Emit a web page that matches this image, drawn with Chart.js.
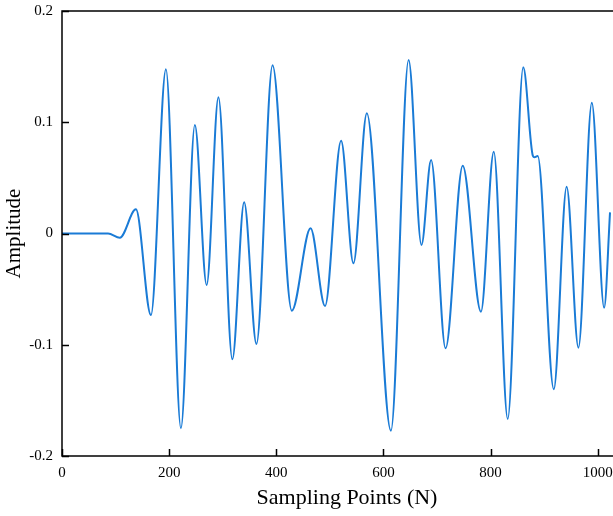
<!DOCTYPE html>
<html>
<head>
<meta charset="utf-8">
<script src="https://cdn.jsdelivr.net/npm/chart.js@4/dist/chart.umd.min.js"></script>
<style>
  html, body { margin: 0; padding: 0; background: #fff; overflow: hidden; }
  #wrap { width: 613px; height: 516px; overflow: hidden; }
</style>
</head>
<body>
<div id="wrap"><canvas id="waveCanvas" width="632" height="516"></canvas></div>
<script>
// sampling point index of each turning point of the recorded wave
var samplePoints = [0, 86, 108, 138, 166, 194, 222, 248, 270, 292, 318, 340, 363, 393, 429, 464,
  491, 521, 544, 569, 614, 647, 671, 689, 716, 748, 782, 806, 832, 861, 879, 882, 888,
  918, 942, 964, 989, 1012, 1023];

// amplitude at those points
var amplitude = [0, 0, -0.0038, 0.0217, -0.0733, 0.1476, -0.175, 0.0975, -0.0463, 0.1224, -0.1131, 0.028, -0.0993, 0.1512, -0.0694, 0.0047,
  -0.0652, 0.0834, -0.0268, 0.108, -0.1772, 0.156, -0.0103, 0.066, -0.1032, 0.061, -0.0703, 0.0735, -0.1667, 0.1494, 0.0697, 0.0685, 0.0697,
  -0.14, 0.042, -0.1026, 0.1176, -0.0667, 0.019];

var xTicks = [0, 200, 400, 600, 800, 1000];
var xTickLabels = ["0", "200", "400", "600", "800", "1000"];
var yTicks = [-0.2, -0.1, 0, 0.1, 0.2];
var yTickLabels = ["-0.2", "-0.1", "0", "0.1", "0.2"];

var points = [];
for (var i = 0; i < samplePoints.length; i++) {
	points.push({ x: samplePoints[i], y: amplitude[i] });
}

var serif = "'Liberation Serif', 'Times New Roman', serif";

// box around the plot with ticks pointing inwards
var framePlugin = {
	id: "frame",
	afterDraw: function(chart) {
		var ctx = chart.ctx;
		var a = chart.chartArea;
		var sx = chart.scales.x, sy = chart.scales.y;
		ctx.save();
		ctx.strokeStyle = "#000";
		ctx.lineWidth = 1.5;
		ctx.strokeRect(a.left, a.top, a.right - a.left, a.bottom - a.top);
		ctx.beginPath();
		sx.ticks.forEach(function(t) {
			var px = Math.round(sx.getPixelForValue(t.value)) + 0.5;
			ctx.moveTo(px, a.bottom);
			ctx.lineTo(px, a.bottom - 7);
		});
		sy.ticks.forEach(function(t) {
			var py = Math.round(sy.getPixelForValue(t.value)) + 0.5;
			ctx.moveTo(a.left, py);
			ctx.lineTo(a.left + 7, py);
		});
		ctx.stroke();
		ctx.restore();
	}
};

var ctx = document.getElementById("waveCanvas");

var chart = new Chart(ctx, {
	type: "line",
	data: {
		datasets: [
			{
				label: "Amplitude",
				data: points,
				borderColor: "#1a7bd6",
				borderWidth: 2,
				pointRadius: 0,
				fill: false,
				cubicInterpolationMode: "monotone"
			}
		]
	},
	options: {
		responsive: false,
		animation: false,
		layout: { padding: { top: 11, right: 0, left: 0, bottom: 0 } },
		plugins: {
			legend: { display: false },
			tooltip: { enabled: false }
		},
		scales: {
			x: {
				type: "linear",
				min: 0,
				max: 1064,
				grid: { display: false, drawTicks: false },
				border: { display: false },
				afterBuildTicks: function(s) {
					s.ticks = xTicks.map(function(v) { return { value: v }; });
				},
				afterFit: function(s) {
					s.height = 60;
					s.paddingLeft = 0;
					s.paddingRight = 0;
				},
				ticks: {
					color: "#000",
					padding: 8,
					maxRotation: 0,
					font: { family: serif, size: 15 },
					callback: function(value) {
						return xTickLabels[xTicks.indexOf(value)];
					}
				},
				title: {
					display: true,
					text: "Sampling Points (N)",
					color: "#000",
					padding: { top: 0, bottom: 5 },
					font: { family: serif, size: 22 }
				}
			},
			y: {
				min: -0.2,
				max: 0.2,
				grid: { display: false, drawTicks: false },
				border: { display: false },
				afterBuildTicks: function(s) {
					s.ticks = yTicks.map(function(v) { return { value: v }; });
				},
				afterFit: function(s) {
					s.width = 62;
					s.paddingTop = 0;
					s.paddingBottom = 0;
				},
				ticks: {
					color: "#000",
					padding: 9,
					font: { family: serif, size: 15 },
					callback: function(value) {
						return yTickLabels[yTicks.indexOf(value)];
					}
				},
				title: {
					display: true,
					text: "Amplitude",
					color: "#000",
					padding: { top: 2, bottom: 0 },
					font: { family: serif, size: 21 }
				}
			}
		}
	},
	plugins: [framePlugin]
});
</script>
</body>
</html>
